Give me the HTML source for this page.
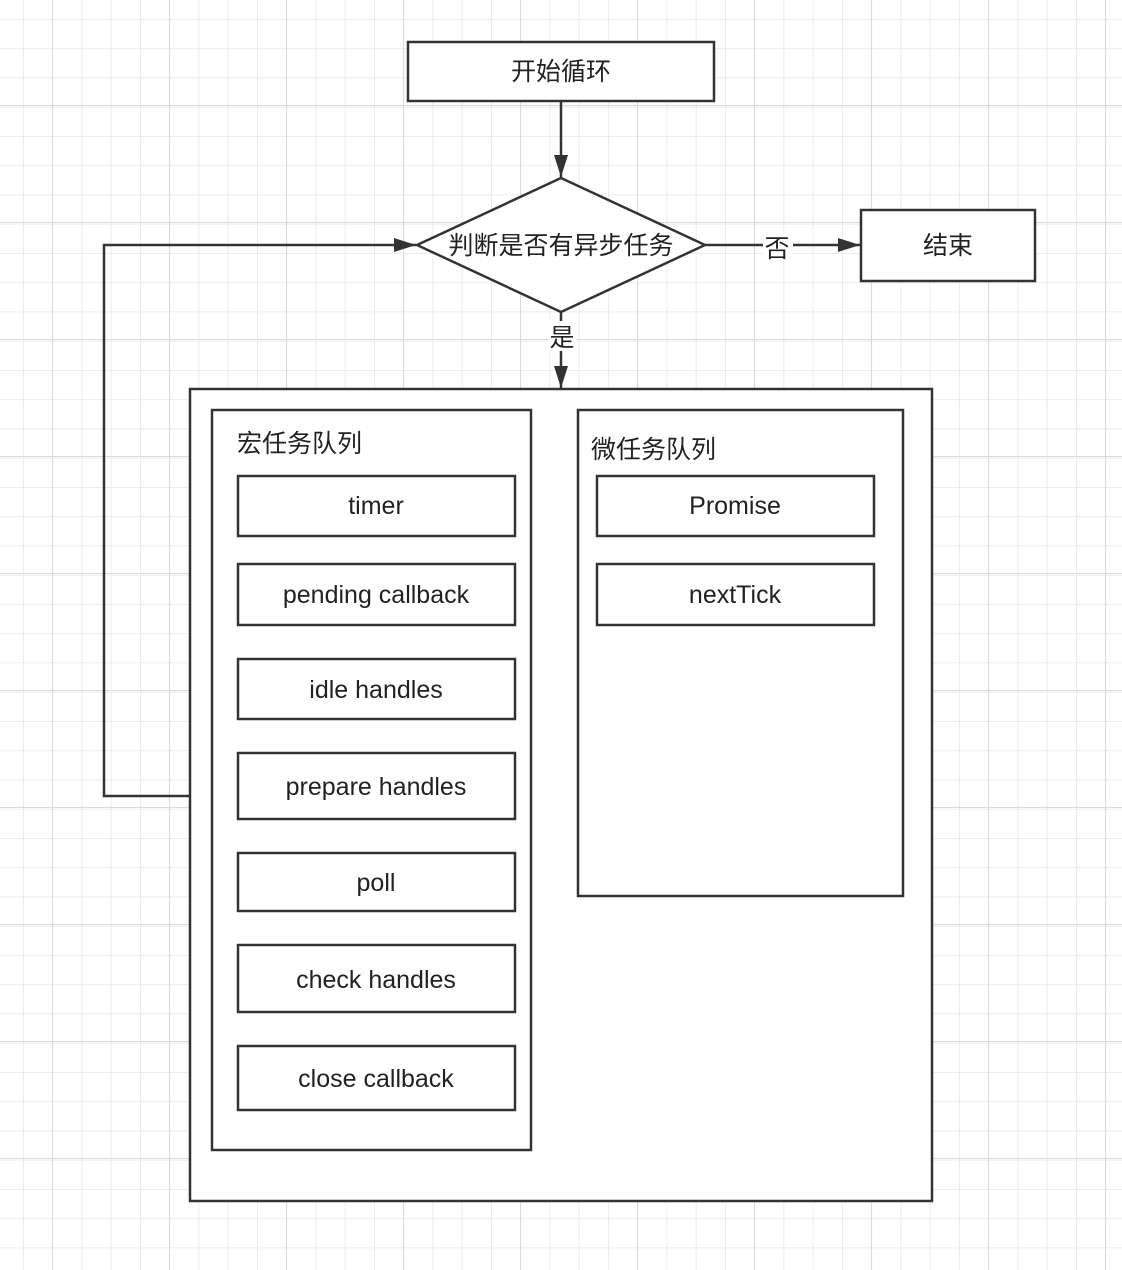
<!DOCTYPE html>
<html><head><meta charset="utf-8"><style>
body{margin:0;background:#fff}
svg{display:block}
text{font-family:"Liberation Sans","Noto Sans CJK SC",sans-serif;fill:#222}
</style></head><body>
<svg width="1122" height="1270" viewBox="0 0 1122 1270" xmlns="http://www.w3.org/2000/svg">
<defs>
<pattern id="minor" x="23" y="19" width="29.25" height="29.25" patternUnits="userSpaceOnUse">
<path d="M0 0V29.25M0 0H29.25" stroke="#e6e6e6" stroke-width="1.5" fill="none"/>
</pattern>
<pattern id="major" x="52" y="105" width="117" height="117" patternUnits="userSpaceOnUse">
<path d="M0 0V117M0 0H117" stroke="#dadada" stroke-width="2" fill="none"/>
</pattern>
<marker id="ar" viewBox="0 0 22 14" refX="22" refY="7" markerWidth="22" markerHeight="14" markerUnits="userSpaceOnUse" orient="auto">
<path d="M0 0L22 7L0 14z" fill="#333"/>
</marker>
</defs>
<rect width="1122" height="1270" fill="#fff"/>
<rect width="1122" height="1270" fill="url(#minor)"/>
<rect width="1122" height="1270" fill="url(#major)"/>
<g stroke="#333" stroke-width="2.5" fill="#fff">
<rect x="408" y="42" width="306" height="59"/>
<polygon points="561,178 705,245 561,312 417,245"/>
<rect x="861" y="210" width="174" height="71"/>
<rect x="190" y="389" width="742" height="812"/>
<rect x="212" y="410" width="319" height="740"/>
<rect x="578" y="410" width="325" height="486"/>
<rect x="238" y="476" width="277" height="60"/>
<rect x="238" y="564" width="277" height="61"/>
<rect x="238" y="659" width="277" height="60"/>
<rect x="238" y="753" width="277" height="66"/>
<rect x="238" y="853" width="277" height="58"/>
<rect x="238" y="945" width="277" height="67"/>
<rect x="238" y="1046" width="277" height="64"/>
<rect x="597" y="476" width="277" height="60"/>
<rect x="597" y="564" width="277" height="61"/>
</g>
<g stroke="#333" stroke-width="2.5" fill="none">
<line x1="561" y1="101" x2="561" y2="177" marker-end="url(#ar)"/>
<line x1="705" y1="245" x2="860" y2="245" marker-end="url(#ar)"/>
<line x1="561" y1="312" x2="561" y2="388" marker-end="url(#ar)"/>
<polyline points="190,796 104,796 104,245 416,245" marker-end="url(#ar)"/>
</g>
<rect x="763" y="231" width="30" height="30" fill="#fff"/>
<rect x="548" y="321" width="28" height="30" fill="#fff"/>
<g font-size="25" text-anchor="middle">
<text x="561" y="80">开始循环</text>
<text x="561" y="254">判断是否有异步任务</text>
<text x="777" y="257">否</text>
<text x="562" y="346">是</text>
<text x="948" y="254">结束</text>
</g>
<text x="237" y="452" font-size="25">宏任务队列</text>
<text x="591" y="458" font-size="25">微任务队列</text>
<g font-size="25" text-anchor="middle">
<text x="376" y="514">timer</text>
<text x="376" y="603">pending callback</text>
<text x="376" y="698">idle handles</text>
<text x="376" y="795">prepare handles</text>
<text x="376" y="891">poll</text>
<text x="376" y="988">check handles</text>
<text x="376" y="1087">close callback</text>
<text x="735" y="514">Promise</text>
<text x="735" y="603">nextTick</text>
</g>
</svg>
</body></html>
